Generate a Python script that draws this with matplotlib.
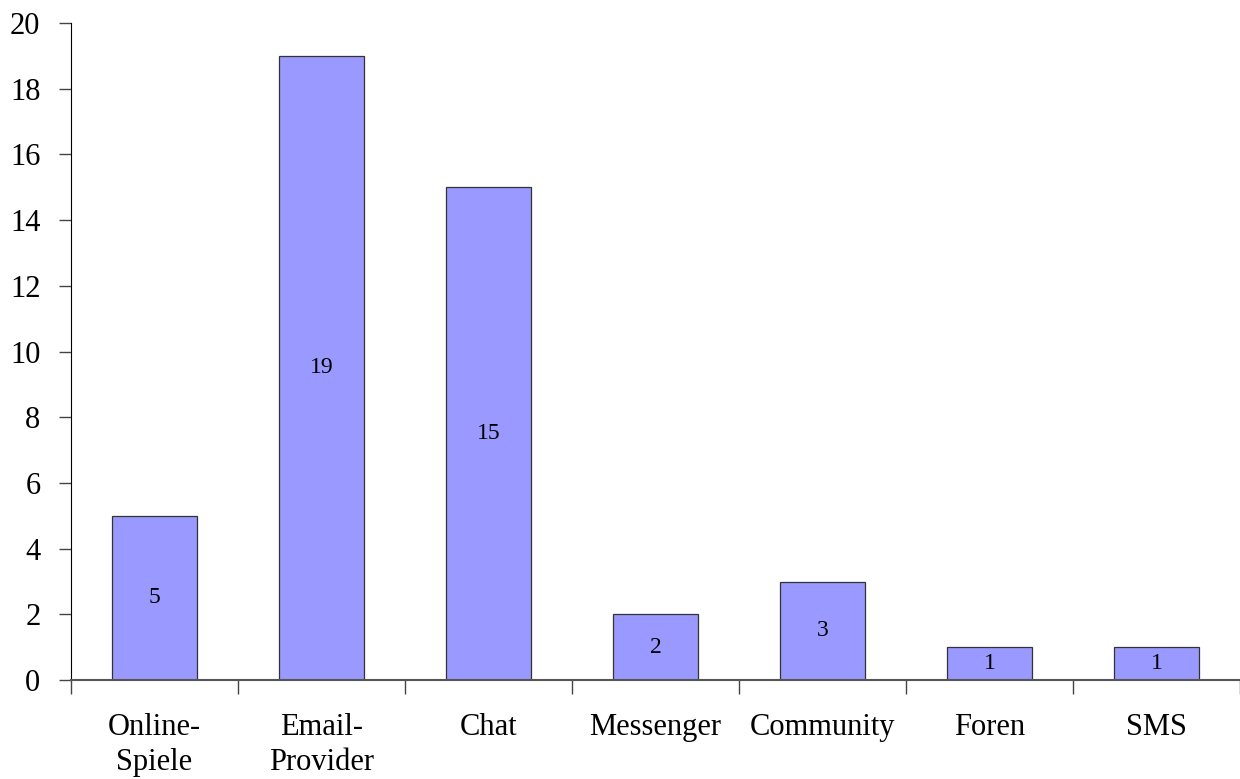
import numpy as np
import matplotlib
matplotlib.use("Agg")
import matplotlib.pyplot as plt

plt.rcParams['font.family'] = ['Liberation Serif', 'DejaVu Serif']

# Daten aus dem Diagramm
kategorien = ["Online-\nSpiele", "Email-\nProvider", "Chat", "Messenger", "Community", "Foren", "SMS"]
werte = [5, 19, 15, 2, 3, 1, 1]

fig = plt.figure(figsize=(12.4, 7.79), dpi=100)
ax = fig.add_axes([0.0573, 0.127, 0.9427, 0.8435])

x = np.arange(len(kategorien))
bars = ax.bar(x, werte, width=0.51, color="#9999FF", edgecolor="#333333", linewidth=0.9)

# Werte in der Mitte der Balken
for b, v in zip(bars, werte):
    ax.text(b.get_x() + b.get_width() / 2, v / 2, str(v), ha="center", va="center", fontsize=17)

ax.set_xlim(-0.5, len(kategorien) - 0.5)
ax.set_ylim(0, 20)
ax.set_yticks(np.arange(0, 21, 2))
ax.tick_params(axis="y", direction="out", length=9, width=1, color="#444444", labelsize=22, pad=13)

# x-Ticks zwischen den Kategorien, Beschriftung als minor ticks
ax.set_xticks(np.arange(-0.5, len(kategorien), 1))
ax.set_xticklabels([])
ax.set_xticks(x, minor=True)
ax.set_xticklabels(kategorien, minor=True, fontsize=22, linespacing=1.25)
ax.tick_params(axis="x", which="major", direction="out", length=10, width=1, color="#444444")
ax.tick_params(axis="x", which="minor", length=0, pad=24)

for s in ["top", "right"]:
    ax.spines[s].set_visible(False)
ax.spines["left"].set_color("black")
ax.spines["bottom"].set_color("#555555")
ax.spines["bottom"].set_linewidth(1.5)

fig.savefig("out.png", dpi=100)
